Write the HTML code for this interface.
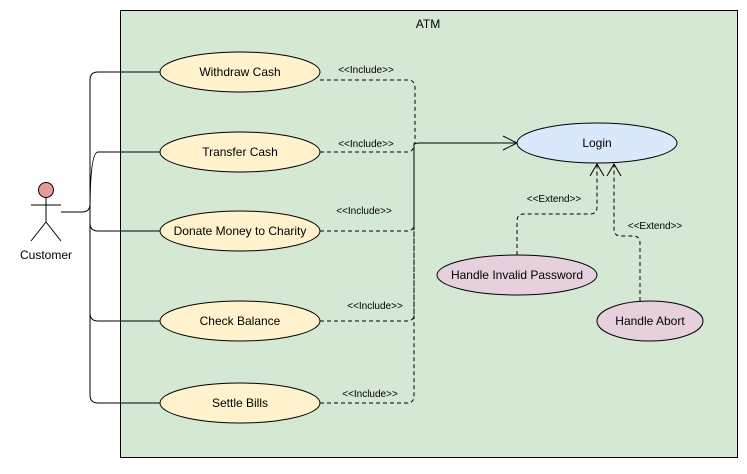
<!DOCTYPE html>
<html><head><style>body{margin:0;background:#fff}</style></head><body>
<svg width="747" height="469" xmlns="http://www.w3.org/2000/svg" font-family="Liberation Sans, sans-serif" font-size="12">
<rect x="120.5" y="10.5" width="617" height="447" fill="#d5e8d4" stroke="#000"/>
<text x="428" y="28" text-anchor="middle">ATM</text>
<g fill="none" stroke="#000">
<circle cx="46" cy="190" r="7.5" fill="#ea9999"/>
<path d="M46 197V222M31 205H61M46 222L31 241M46 222L61 241"/>
<path d="M61 212H82Q90 212 90 204V80Q90 72 98 72H160M90 212Q90 152 98 152H160M90 212V223Q90 231 98 231H160M90 212V313Q90 321 98 321H160M90 313V395Q90 403 98 403H160"/>
<g stroke-dasharray="4,3">
<path d="M320 80H408Q415 80 415 88V143M320 152H407Q414 152 414 144M320 231H407Q414 231 414 224V143M320 321H407Q414 321 414 314V143M320 403H407Q414 403 414 396V143"/>
<path d="M517 255V221Q517 214 524 214H590Q597 214 597 207V164M640 301V243Q640 236 633 236H621Q614 236 614 229V164"/>
</g>
<path d="M414 145Q414 143 420 143H516M503 136L517 143L503 150M590 176L597 164L604 176M607 176L614 164L621 176"/>
</g>
<g stroke="#000" fill="#fff2cc">
<ellipse cx="240" cy="72" rx="80" ry="20"/>
<ellipse cx="240" cy="152" rx="80" ry="20"/>
<ellipse cx="240" cy="231" rx="80" ry="20"/>
<ellipse cx="240" cy="321" rx="80" ry="20"/>
<ellipse cx="240" cy="403" rx="80" ry="20"/>
<ellipse cx="597" cy="143" rx="80" ry="20" fill="#dae8fc"/>
<ellipse cx="517" cy="275" rx="80" ry="20" fill="#e6d0de"/>
<ellipse cx="650" cy="321" rx="53" ry="20" fill="#e6d0de"/>
</g>
<g text-anchor="middle">
<text x="240" y="76">Withdraw Cash</text>
<text x="240" y="156">Transfer Cash</text>
<text x="240" y="235">Donate Money to Charity</text>
<text x="240" y="325">Check Balance</text>
<text x="240" y="407">Settle Bills</text>
<text x="597" y="147">Login</text>
<text x="517" y="279">Handle Invalid Password</text>
<text x="650" y="325">Handle Abort</text>
<text x="46" y="259">Customer</text>
</g>
<g text-anchor="middle" font-size="10">
<text x="366" y="73">&lt;&lt;Include&gt;&gt;</text>
<text x="366" y="147">&lt;&lt;Include&gt;&gt;</text>
<text x="364" y="214">&lt;&lt;Include&gt;&gt;</text>
<text x="375" y="309">&lt;&lt;Include&gt;&gt;</text>
<text x="370" y="397">&lt;&lt;Include&gt;&gt;</text>
<text x="554" y="202">&lt;&lt;Extend&gt;&gt;</text>
<text x="655" y="229">&lt;&lt;Extend&gt;&gt;</text>
</g>
</svg>
</body></html>
